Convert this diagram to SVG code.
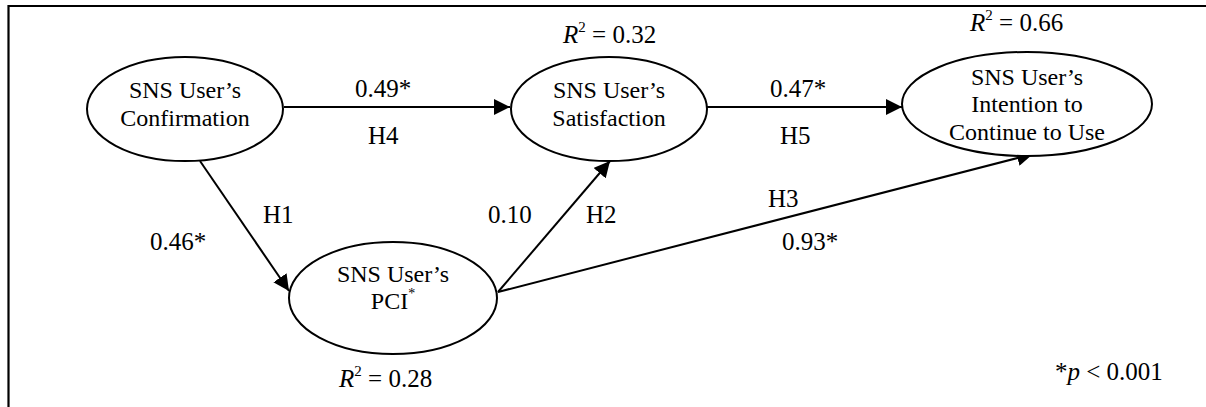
<svg xmlns="http://www.w3.org/2000/svg" width="1206" height="407" viewBox="0 0 1206 407">
<style>
.node{fill:#fff;stroke:#000;stroke-width:2}
.nt{font-family:'Times New Roman','Liberation Serif','DejaVu Serif',serif;font-size:24px;fill:#000;text-anchor:middle}
.lb{font-family:'Times New Roman','Liberation Serif','DejaVu Serif',serif;font-size:25px;fill:#000}
.edge{stroke:#000;stroke-width:2;fill:none;marker-end:url(#arr)}
</style>
<defs>
<marker id="arr" markerUnits="userSpaceOnUse" markerWidth="17" markerHeight="16" refX="16" refY="8" orient="auto">
<path d="M0,0 L16,8 L0,16 z" fill="#000"/>
</marker>
</defs>
<rect width="1206" height="407" fill="#fff"/>
<polyline points="8.5,407 8.5,6 1206,6" fill="none" stroke="#000" stroke-width="2.2"/>
<g id="connectors">
<line class="edge" x1="284" y1="107" x2="510" y2="107"/>
<line class="edge" x1="707" y1="107" x2="902" y2="107"/>
<line class="edge" x1="200" y1="161" x2="289" y2="291"/>
<line class="edge" x1="498" y1="292" x2="610" y2="161"/>
<line class="edge" x1="498" y1="292" x2="1033" y2="154"/>
</g>
<g id="node-confirmation">
<ellipse class="node" cx="185" cy="109" rx="98" ry="52"/>
<text class="nt" x="185" y="98">SNS User’s</text>
<text class="nt" x="185" y="126">Confirmation</text>
</g>
<g id="node-satisfaction">
<ellipse class="node" cx="609" cy="109" rx="98" ry="52"/>
<text class="nt" x="609" y="98">SNS User’s</text>
<text class="nt" x="609" y="126">Satisfaction</text>
</g>
<g id="node-intention">
<ellipse class="node" cx="1027" cy="104" rx="125" ry="52"/>
<text class="nt" x="1027" y="85">SNS User’s</text>
<text class="nt" x="1027" y="112">Intention to</text>
<text class="nt" x="1027" y="140">Continue to Use</text>
</g>
<g id="node-pci">
<ellipse class="node" cx="393" cy="298" rx="104" ry="56"/>
<text class="nt" x="393" y="282">SNS User’s</text>
<text class="nt" x="393" y="309">PCI<tspan font-size="14" dy="-11">*</tspan></text>
</g>
<g id="labels">
<text class="lb" x="355" y="97">0.49*</text>
<text class="lb" x="368" y="144">H4</text>
<text class="lb" x="770" y="97">0.47*</text>
<text class="lb" x="780" y="144">H5</text>
<text class="lb" x="263" y="223">H1</text>
<text class="lb" x="150" y="250">0.46*</text>
<text class="lb" x="488" y="223">0.10</text>
<text class="lb" x="586" y="223">H2</text>
<text class="lb" x="768" y="207">H3</text>
<text class="lb" x="782" y="250">0.93*</text>
<text class="lb" x="563" y="43"><tspan font-style="italic">R</tspan><tspan font-size="15" dy="-11">2</tspan><tspan dy="11"> = 0.32</tspan></text>
<text class="lb" x="970" y="31"><tspan font-style="italic">R</tspan><tspan font-size="15" dy="-11">2</tspan><tspan dy="11"> = 0.66</tspan></text>
<text class="lb" x="339" y="387"><tspan font-style="italic">R</tspan><tspan font-size="15" dy="-11">2</tspan><tspan dy="11"> = 0.28</tspan></text>
<text class="lb" x="1055" y="380">*<tspan font-style="italic">p</tspan> &lt; 0.001</text>
</g>
</svg>
